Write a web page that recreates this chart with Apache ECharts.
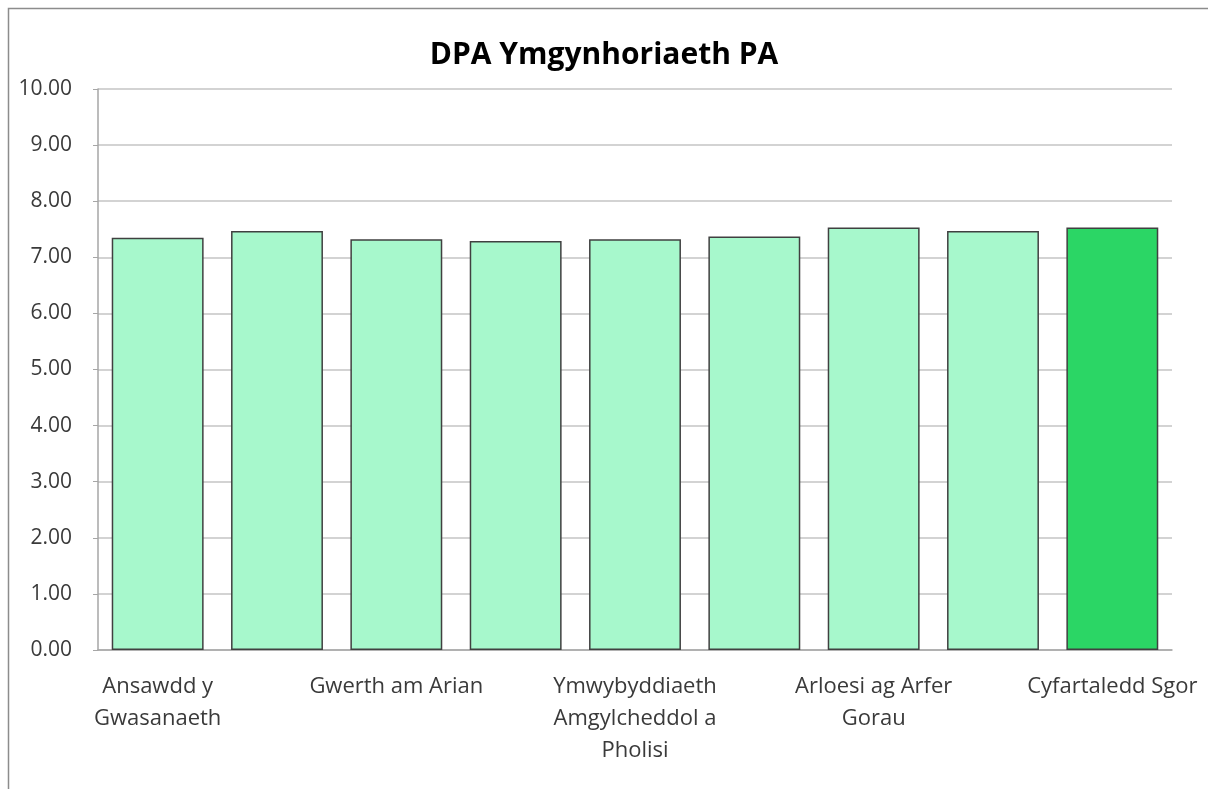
<!DOCTYPE html>
<html>
<head>
<meta charset="utf-8">
<script src="https://cdn.jsdelivr.net/npm/echarts@6/dist/echarts.min.js"></script>
<style>
    html,body{margin:0;padding:0;background:#fff;}
    #chart{width:1208px;height:789px;}
</style>
</head>
<body>
<div id="chart"></div>
<script>
    // categories (only every other label shows in the original)
    var categories = ['Ansawdd y\nGwasanaeth', '', 'Gwerth am Arian', '', 'Ymwybyddiaeth\nAmgylcheddol a\nPholisi', '', 'Arloesi ag Arfer\nGorau', '', 'Cyfartaledd Sgor'];
    var scores = [7.35, 7.47, 7.32, 7.29, 7.32, 7.37, 7.53, 7.47, 7.53];
    var yTicks = [0, 10, 1];

    var myChart = echarts.init(document.getElementById('chart'));
    var font = 'Open Sans, Noto Sans, sans-serif';

    var option = {
        animation: false,
        title: {
            text: 'DPA Ymgynhoriaeth PA',
            left: 'center',
            top: 35,
            textStyle: {fontFamily: font, fontSize: 30, fontWeight: 'bold', color: '#000'}
        },
        graphic: [{
            type: 'rect',
            shape: {x: 8.5, y: 8.5, width: 1400, height: 1000},
            style: {fill: 'none', stroke: '#8c8c8c', lineWidth: 1.5},
            silent: true
        }],
        grid: {left: 98, right: 36, top: 89, bottom: 139},
        xAxis: {
            type: 'category',
            data: categories,
            axisLine: {lineStyle: {color: '#a6a6a6', width: 1.5}},
            axisTick: {show: false},
            axisLabel: {
                interval: 0,
                margin: 21,
                fontFamily: font,
                fontSize: 22,
                lineHeight: 32,
                color: '#3a3a3a'
            }
        },
        yAxis: {
            type: 'value',
            min: yTicks[0],
            max: yTicks[1],
            interval: yTicks[2],
            axisLine: {show: true, lineStyle: {color: '#a6a6a6', width: 1.5}},
            axisTick: {show: true, length: 5, lineStyle: {color: '#a6a6a6'}},
            splitLine: {lineStyle: {color: '#c4c4c4', width: 1.5}},
            axisLabel: {
                margin: 26,
                formatter: function (v) { return v.toFixed(2); },
                fontFamily: font,
                fontSize: 21,
                color: '#3a3a3a'
            }
        },
        series: [{
            type: 'bar',
            barCategoryGap: '23%',
            data: scores.map(function (v, i) {
                return {
                    value: v,
                    itemStyle: {color: i === scores.length - 1 ? '#2bd665' : '#a7f8cc'}
                };
            }),
            itemStyle: {borderColor: '#404040', borderWidth: 1.5}
        }]
    };
    myChart.setOption(option, true);
</script>
</body>
</html>
